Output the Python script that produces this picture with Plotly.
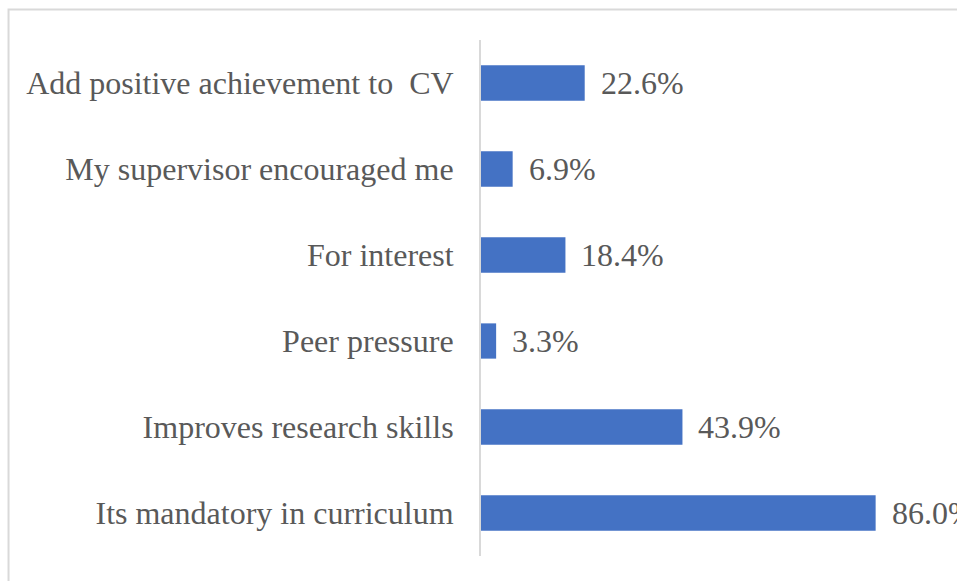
import plotly.graph_objects as go

categories = [
    "Its mandatory in curriculum",
    "Improves research skills",
    "Peer pressure",
    "For interest",
    "My supervisor encouraged me",
    "Add positive achievement to  CV",
]
values = [86.0, 43.9, 3.3, 18.4, 6.9, 22.6]

FONT = "Liberation Serif, Times New Roman, serif"
TXT = "#595959"

fig = go.Figure(
    go.Bar(
        x=values,
        y=categories,
        orientation="h",
        marker=dict(color="#4472C4", line=dict(width=0)),
        width=0.41,
        hoverinfo="skip",
    )
)

for v, c in zip(values, categories):
    fig.add_annotation(
        x=v, y=c, xref="x", yref="y", text=f"{v:.1f}%",
        showarrow=False, xanchor="left", yanchor="middle", xshift=14,
        font=dict(family=FONT, size=32, color=TXT),
    )

# outer frame
fig.add_shape(
    type="rect", xref="paper", yref="paper",
    x0=-1.144, x1=2.0, y0=-1.0, y1=1.059,
    line=dict(color="#d9d9d9", width=2), fillcolor="rgba(0,0,0,0)", layer="below",
)

fig.update_layout(
    width=957, height=581,
    margin=dict(l=481, r=63, t=40, b=25, pad=0),
    paper_bgcolor="white", plot_bgcolor="white",
    showlegend=False,
    font=dict(family=FONT, size=32, color=TXT),
    xaxis=dict(range=[0, 90], showticklabels=False, showgrid=False, zeroline=False,
               showline=False, fixedrange=True),
    yaxis=dict(categoryorder="array", categoryarray=categories, showgrid=False,
               showline=True, linecolor="#d9d9d9", linewidth=2, ticks="",
               ticklabelstandoff=19, tickfont=dict(family=FONT, size=32, color=TXT),
               range=[-0.5, 5.5], fixedrange=True),
)

fig.write_html(
    "out.html",
    config={"displayModeBar": False, "staticPlot": True},
    post_script="document.body.style.margin='0';document.body.style.overflow='hidden';",
)
